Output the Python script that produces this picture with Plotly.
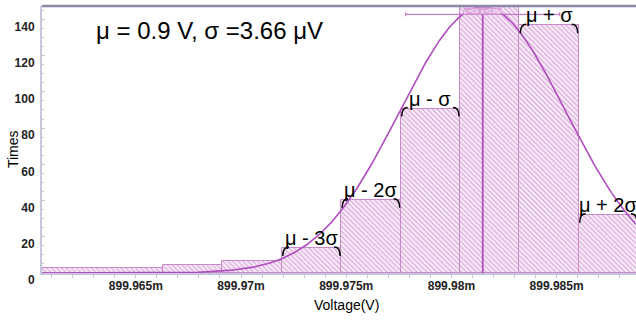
import numpy as np
import plotly.graph_objects as go

# ---- data (voltages in mV, counts) ----
bin_edges = [899.96030, 899.96629, 899.96912, 899.97194, 899.97476,
             899.97759, 899.98041, 899.98323, 899.98605, 899.98887]
counts = [2.8, 4.6, 6.5, 13.8, 40.5, 90.8, 148.0, 136.8, 32.2]
bar_labels = ["", "", "", "μ - 3σ", "μ - 2σ", "μ - σ", "", "μ + σ", "μ + 2σ"]

fit_mu = 899.98149        # mean (mV)
fit_sigma = 0.00395       # width of drawn fit curve (mV)
fit_amp = 147.0           # peak of fit curve
stat_sigma = 0.00366      # sigma from stats box (mV)
stat_y = 142.8

x_ticks = [899.965, 899.970, 899.975, 899.980, 899.985]
x_ticktext = ["899.965m", "899.97m", "899.975m", "899.98m", "899.985m"]
y_ticks = [0, 20, 40, 60, 80, 100, 120, 140]

title_text = "μ = 0.9 V, σ =3.66 μV"
stat_text = "μ =0.9  σ =3.66μ"

x_range = [899.960542, 899.988774]
y_range = [0, 147.4]

# ---- derived ----
edges = np.array(bin_edges)
centers = (edges[:-1] + edges[1:]) / 2
widths = np.diff(edges)

CURVE = "#b04cc0"
FONT = "Liberation Sans"

fig = go.Figure()
fig.add_trace(go.Bar(
    x=centers, y=counts, width=widths,
    marker=dict(
        color="#f8ecf8",
        line=dict(color="#c98ac9", width=1),
        pattern=dict(shape="\\", fgcolor="#d3a0d3", bgcolor="#f8ecf8",
                     size=3.5, solidity=0.3, fillmode="replace"),
    ),
    showlegend=False, hoverinfo="skip",
))

xs = np.linspace(x_range[0], x_range[1], 600)
ys = fit_amp * np.exp(-(xs - fit_mu) ** 2 / (2 * fit_sigma ** 2))
fig.add_trace(go.Scatter(x=xs, y=ys, mode="lines",
                         line=dict(color=CURVE, width=1.6),
                         showlegend=False, hoverinfo="skip"))

# mean line
fig.add_trace(go.Scatter(x=[fit_mu, fit_mu], y=[0, y_range[1]], mode="lines",
                         line=dict(color=CURVE, width=1.8),
                         showlegend=False, hoverinfo="skip"))

# sigma bar
fig.add_trace(go.Scatter(x=[fit_mu], y=[stat_y], mode="markers",
                         marker=dict(size=1, color=CURVE),
                         error_x=dict(type="data", array=[stat_sigma], color="#c060c8",
                                      thickness=1, width=2),
                         showlegend=False, hoverinfo="skip"))

shapes = []
annotations = []
for i, lab in enumerate(bar_labels):
    if not lab:
        continue
    xl, xr, top = edges[i], edges[i + 1], counts[i]
    shapes.append(dict(type="path", xref="x", yref="y", xsizemode="pixel", ysizemode="pixel",
                       xanchor=xl, yanchor=top, path="M 1,-8 Q 1,1 7,1",
                       line=dict(color="black", width=1.5)))
    shapes.append(dict(type="path", xref="x", yref="y", xsizemode="pixel", ysizemode="pixel",
                       xanchor=xr, yanchor=top, path="M -7,1 Q -1,1 -1,-8",
                       line=dict(color="black", width=1.5)))
    annotations.append(dict(x=(xl + xr) / 2, y=top, xref="x", yref="y", text=lab,
                            showarrow=False, yanchor="middle", yshift=10,
                            font=dict(family=FONT, size=20, color="black")))

# top border
shapes.append(dict(type="line", xref="paper", yref="paper", x0=0, x1=1, y0=1, y1=1,
                   line=dict(color="#8c88a8", width=2.5)))

annotations.append(dict(x=0.282, y=0.91, xref="paper", yref="paper", text=title_text,
                        showarrow=False, xanchor="center", yanchor="middle",
                        font=dict(family=FONT, size=24, color="black")))
annotations.append(dict(x=fit_mu, y=y_range[1], xref="x", yref="y", text=stat_text,
                        showarrow=False, xanchor="center", yanchor="top", yshift=-1,
                        bgcolor="#d9a3d9", borderpad=0,
                        font=dict(family=FONT, size=5, color="white")))
annotations.append(dict(x=-0.0488, y=0.464, xref="paper", yref="paper", text="Times",
                        showarrow=False, textangle=-90, xanchor="center", yanchor="middle",
                        font=dict(family=FONT, size=14, color="black")))
annotations.append(dict(x=0.512, y=-0.12, xref="paper", yref="paper", text="Voltage(V)",
                        showarrow=False, xanchor="center", yanchor="middle",
                        font=dict(family=FONT, size=14, color="black")))

fig.update_layout(
    width=636, height=320,
    margin=dict(l=42, r=0, t=6, b=47),
    paper_bgcolor="white", plot_bgcolor="white",
    bargap=0,
    shapes=shapes, annotations=annotations,
    xaxis=dict(range=x_range, tickvals=x_ticks, ticktext=x_ticktext,
               showgrid=False, zeroline=False, showline=True,
               linecolor="#c4c8da", linewidth=2,
               ticks="outside", ticklen=3, tickcolor="#c4c8da",
               minor=dict(dtick=0.001, tick0=899.965, ticks="outside", ticklen=3,
                          tickcolor="#c4c8da"),
               tickfont=dict(family=FONT, size=12, color="#222", weight="bold"),
               ticklabelstandoff=-2),
    yaxis=dict(range=y_range, tickvals=y_ticks, showgrid=False, zeroline=False,
               showline=True, linecolor="#c4c8da", linewidth=2,
               ticks="inside", ticklen=3, tickcolor="#c4c8da",
               minor=dict(dtick=5, ticks="inside", ticklen=2, tickcolor="#c4c8da"),
               tickfont=dict(family=FONT, size=12, color="#222", weight="bold"),
               ticklabelshift=7, ticklabelstandoff=3),
)

fig.write_html("out.html")
